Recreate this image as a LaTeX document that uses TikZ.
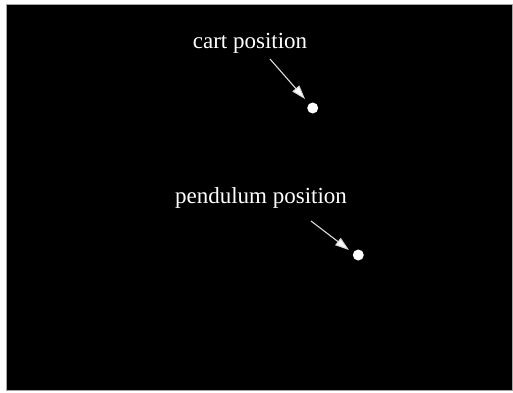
\documentclass[tikz,border=0pt]{standalone}
\usepackage{fontspec}
\setmainfont{Liberation Serif}
\usetikzlibrary{arrows.meta}
\begin{document}
\begin{tikzpicture}[x=1pt,y=1pt,
  lbl/.style={text=white,font=\fontsize{23}{26}\selectfont,anchor=base,inner sep=0pt},
  dotnode/.style={circle,fill=white,minimum size=11pt,inner sep=0pt},
  pointer/.style={draw=white!85!black,line width=1.1pt,-{Triangle[length=14pt,width=9pt,fill=white]}}]
\useasboundingbox (0,0) rectangle (513,392);
\fill[white] (0,0) rectangle (513,392);
\draw[fill=black,draw=gray!70,line width=0.8pt] (6,2) rectangle (512.5,388);
\node[lbl] (cart) at (250,344) {cart position};
\node[lbl] (pend) at (261,189) {pendulum position};
\node[dotnode] (cdot) at (312.7,284) {};
\node[dotnode] (pdot) at (358.3,137) {};
\coordinate (cs) at (270,333);
\coordinate (ps) at (311,171);
\draw[pointer] (cs) -- (305,293);
\draw[pointer] (ps) -- (349,142);
\end{tikzpicture}
\end{document}
